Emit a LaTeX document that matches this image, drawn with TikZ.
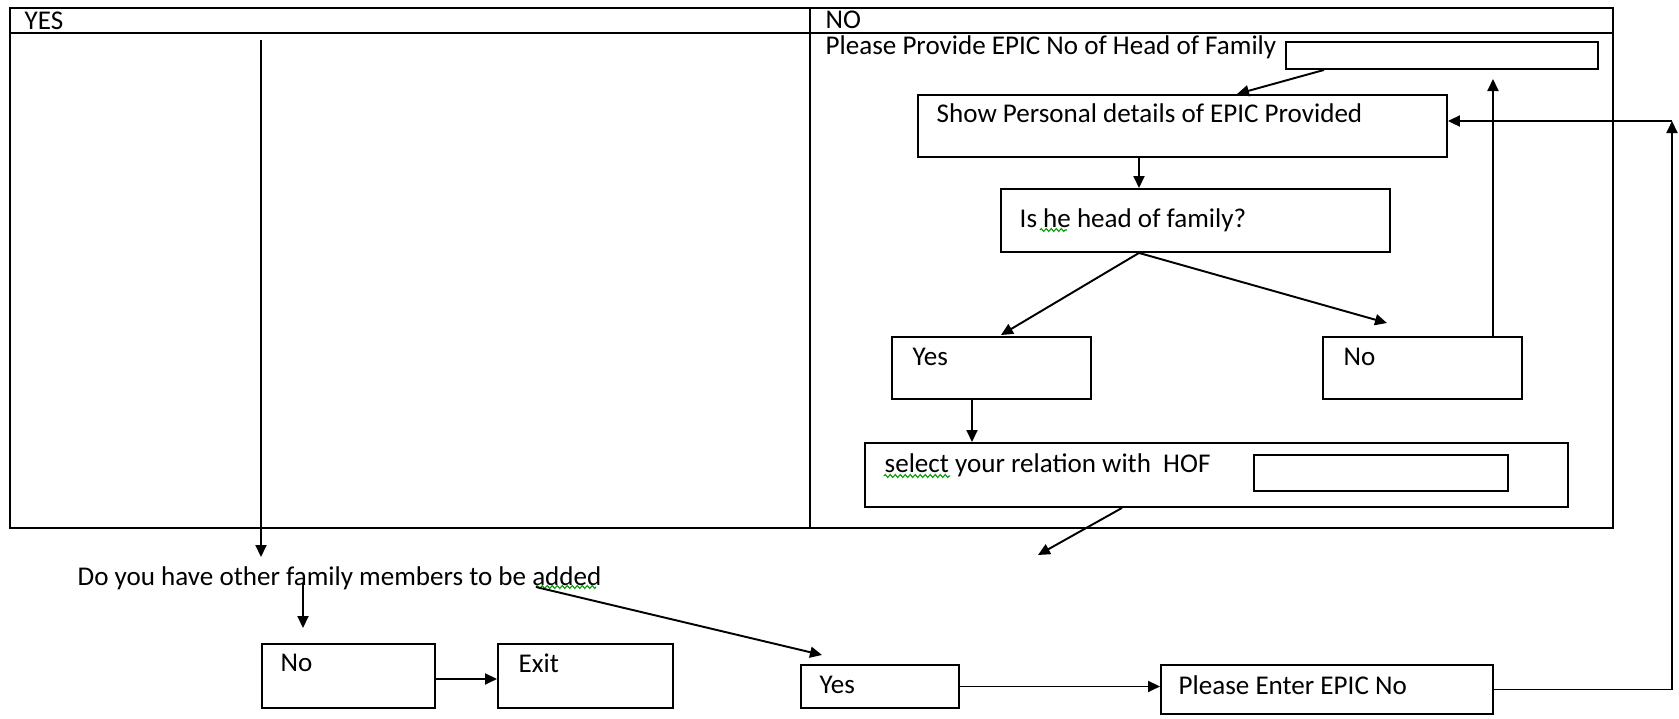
\documentclass[tikz,border=0pt]{standalone}
\usepackage{fontspec}
\setmainfont{Carlito}
\usetikzlibrary{arrows.meta,decorations.pathmorphing}

\tikzset{
  box/.style={draw, line width=0.55pt, anchor=north west, inner sep=0pt},
  lbl/.style={anchor=west, inner sep=0pt, font=\fontsize{7.7}{9}\selectfont},
  arr/.style={line width=0.55pt, -{Triangle[length=1.2mm,width=1.1mm]}},
  squig/.style={draw=green!60!black, line width=0.3pt, decorate,
    decoration={zigzag, amplitude=0.15mm, segment length=0.5mm}}
}

\begin{document}
\begin{tikzpicture}[x=1cm,y=-1cm]
    \useasboundingbox (0,0) rectangle (16.79,7.18);

    % draw table
    \draw[line width=0.55pt] (0.10,0.08) rectangle (16.13,5.28);
    \draw[line width=0.55pt] (0.10,0.33) -- (16.13,0.33);
    \draw[line width=0.55pt] (8.10,0.08) -- (8.10,5.28);

    \node[lbl] (yeshead) at (0.24,0.21) {YES};
    \node[lbl] (nohead) at (8.25,0.20) {NO};

    % draw boxes of the NO column
    \node[box, minimum width=3.12cm, minimum height=0.27cm] (epicin) at (12.85,0.41) {};
    \node[box, minimum width=5.29cm, minimum height=0.62cm] (show) at (9.17,0.94) {};
    \node[box, minimum width=3.89cm, minimum height=0.63cm] (ishof) at (10.00,1.88) {};
    \node[box, minimum width=1.99cm, minimum height=0.62cm] (yes) at (8.91,3.36) {};
    \node[box, minimum width=1.99cm, minimum height=0.62cm] (no) at (13.22,3.36) {};
    \node[box, minimum width=7.03cm, minimum height=0.64cm] (select) at (8.64,4.42) {};
    \node[box, minimum width=2.54cm, minimum height=0.36cm] (hofin) at (12.53,4.54) {};

    % draw boxes below the table
    \node[box, minimum width=1.73cm, minimum height=0.64cm] (nomore) at (2.61,6.43) {};
    \node[box, minimum width=1.75cm, minimum height=0.64cm] (exit) at (4.97,6.43) {};
    \node[box, minimum width=1.58cm, minimum height=0.43cm] (yesmore) at (8.00,6.64) {};
    \node[box, minimum width=3.32cm, minimum height=0.49cm] (enter) at (11.60,6.64) {};

    % draw texts
    \node[lbl] (epictxt) at (8.25,0.47) {Please Provide EPIC No of Head of Family};
    \node[lbl] (showtxt) at (9.36,1.13) {Show Personal details of EPIC Provided};
    \node[lbl] (ishoftxt) at (10.19,2.20) {Is he head of family?};
    \node[lbl] (yestxt) at (9.12,3.57) {Yes};
    \node[lbl] (notxt) at (13.43,3.57) {No};
    \node[lbl] (selecttxt) at (8.84,4.65) {select your relation with\ \ HOF};
    \node[lbl] (question) at (0.77,5.78) {Do you have other family members to be added};
    \node[lbl] (nomoretxt) at (2.80,6.63) {No};
    \node[lbl] (exittxt) at (5.18,6.63) {Exit};
    \node[lbl] (yesmoretxt) at (8.19,6.85) {Yes};
    \node[lbl] (entertxt) at (11.78,6.85) {Please Enter EPIC No};

    % spelling marks
    \draw[squig] (10.40,2.30) -- (10.67,2.30);
    \draw[squig] (8.84,4.76) -- (9.50,4.76);
    \draw[squig] (5.36,5.87) -- (5.96,5.87);

    % free ends of arrows
    \coordinate (leftstart) at (2.61,0.40);
    \coordinate (leftend) at (2.61,5.57);
    \coordinate (backtop) at (14.93,0.79);
    \coordinate (afterselect) at (10.38,5.55);
    \coordinate (corner) at (16.72,1.21);
    \coordinate (qdown) at (3.03,5.83);
    \coordinate (qright) at (5.36,5.87);

    % draw arrows
    \draw[arr] (leftstart) -- (leftend);
    \draw[arr] ([xshift=0.39cm]epicin.south west) -- ([xshift=3.20cm]show.north west);
    \draw[arr] ([xshift=2.22cm]show.south west) -- ([xshift=1.39cm]ishof.north west);
    \draw[arr] ([xshift=1.39cm]ishof.south west) -- ([xshift=1.10cm,yshift=0.01cm]yes.north west);
    \draw[arr] ([xshift=1.39cm]ishof.south west) -- ([xshift=0.65cm,yshift=0.13cm]no.north west);
    \draw[arr] ([xshift=1.71cm]no.north west) -- (backtop);
    \draw[arr] ([xshift=0.81cm]yes.south west) -- ([xshift=1.08cm]select.north west);
    \draw[arr] ([xshift=2.58cm]select.south west) -- (afterselect);
    \draw[arr] (qdown) -- ([xshift=0.42cm,yshift=0.15cm]nomore.north west);
    \draw[arr] ([yshift=-0.03cm]nomore.east) -- ([yshift=-0.03cm]exit.west);
    \draw[arr] (qright) -- ([xshift=0.22cm,yshift=0.09cm]yesmore.north west);
    \draw[arr] (yesmore.east) -- (yesmore.east -| enter.west);
    \draw[arr] (enter.east) -| (corner);
    \draw[arr] (corner) -- (corner -| show.east);

\end{tikzpicture}
\end{document}
